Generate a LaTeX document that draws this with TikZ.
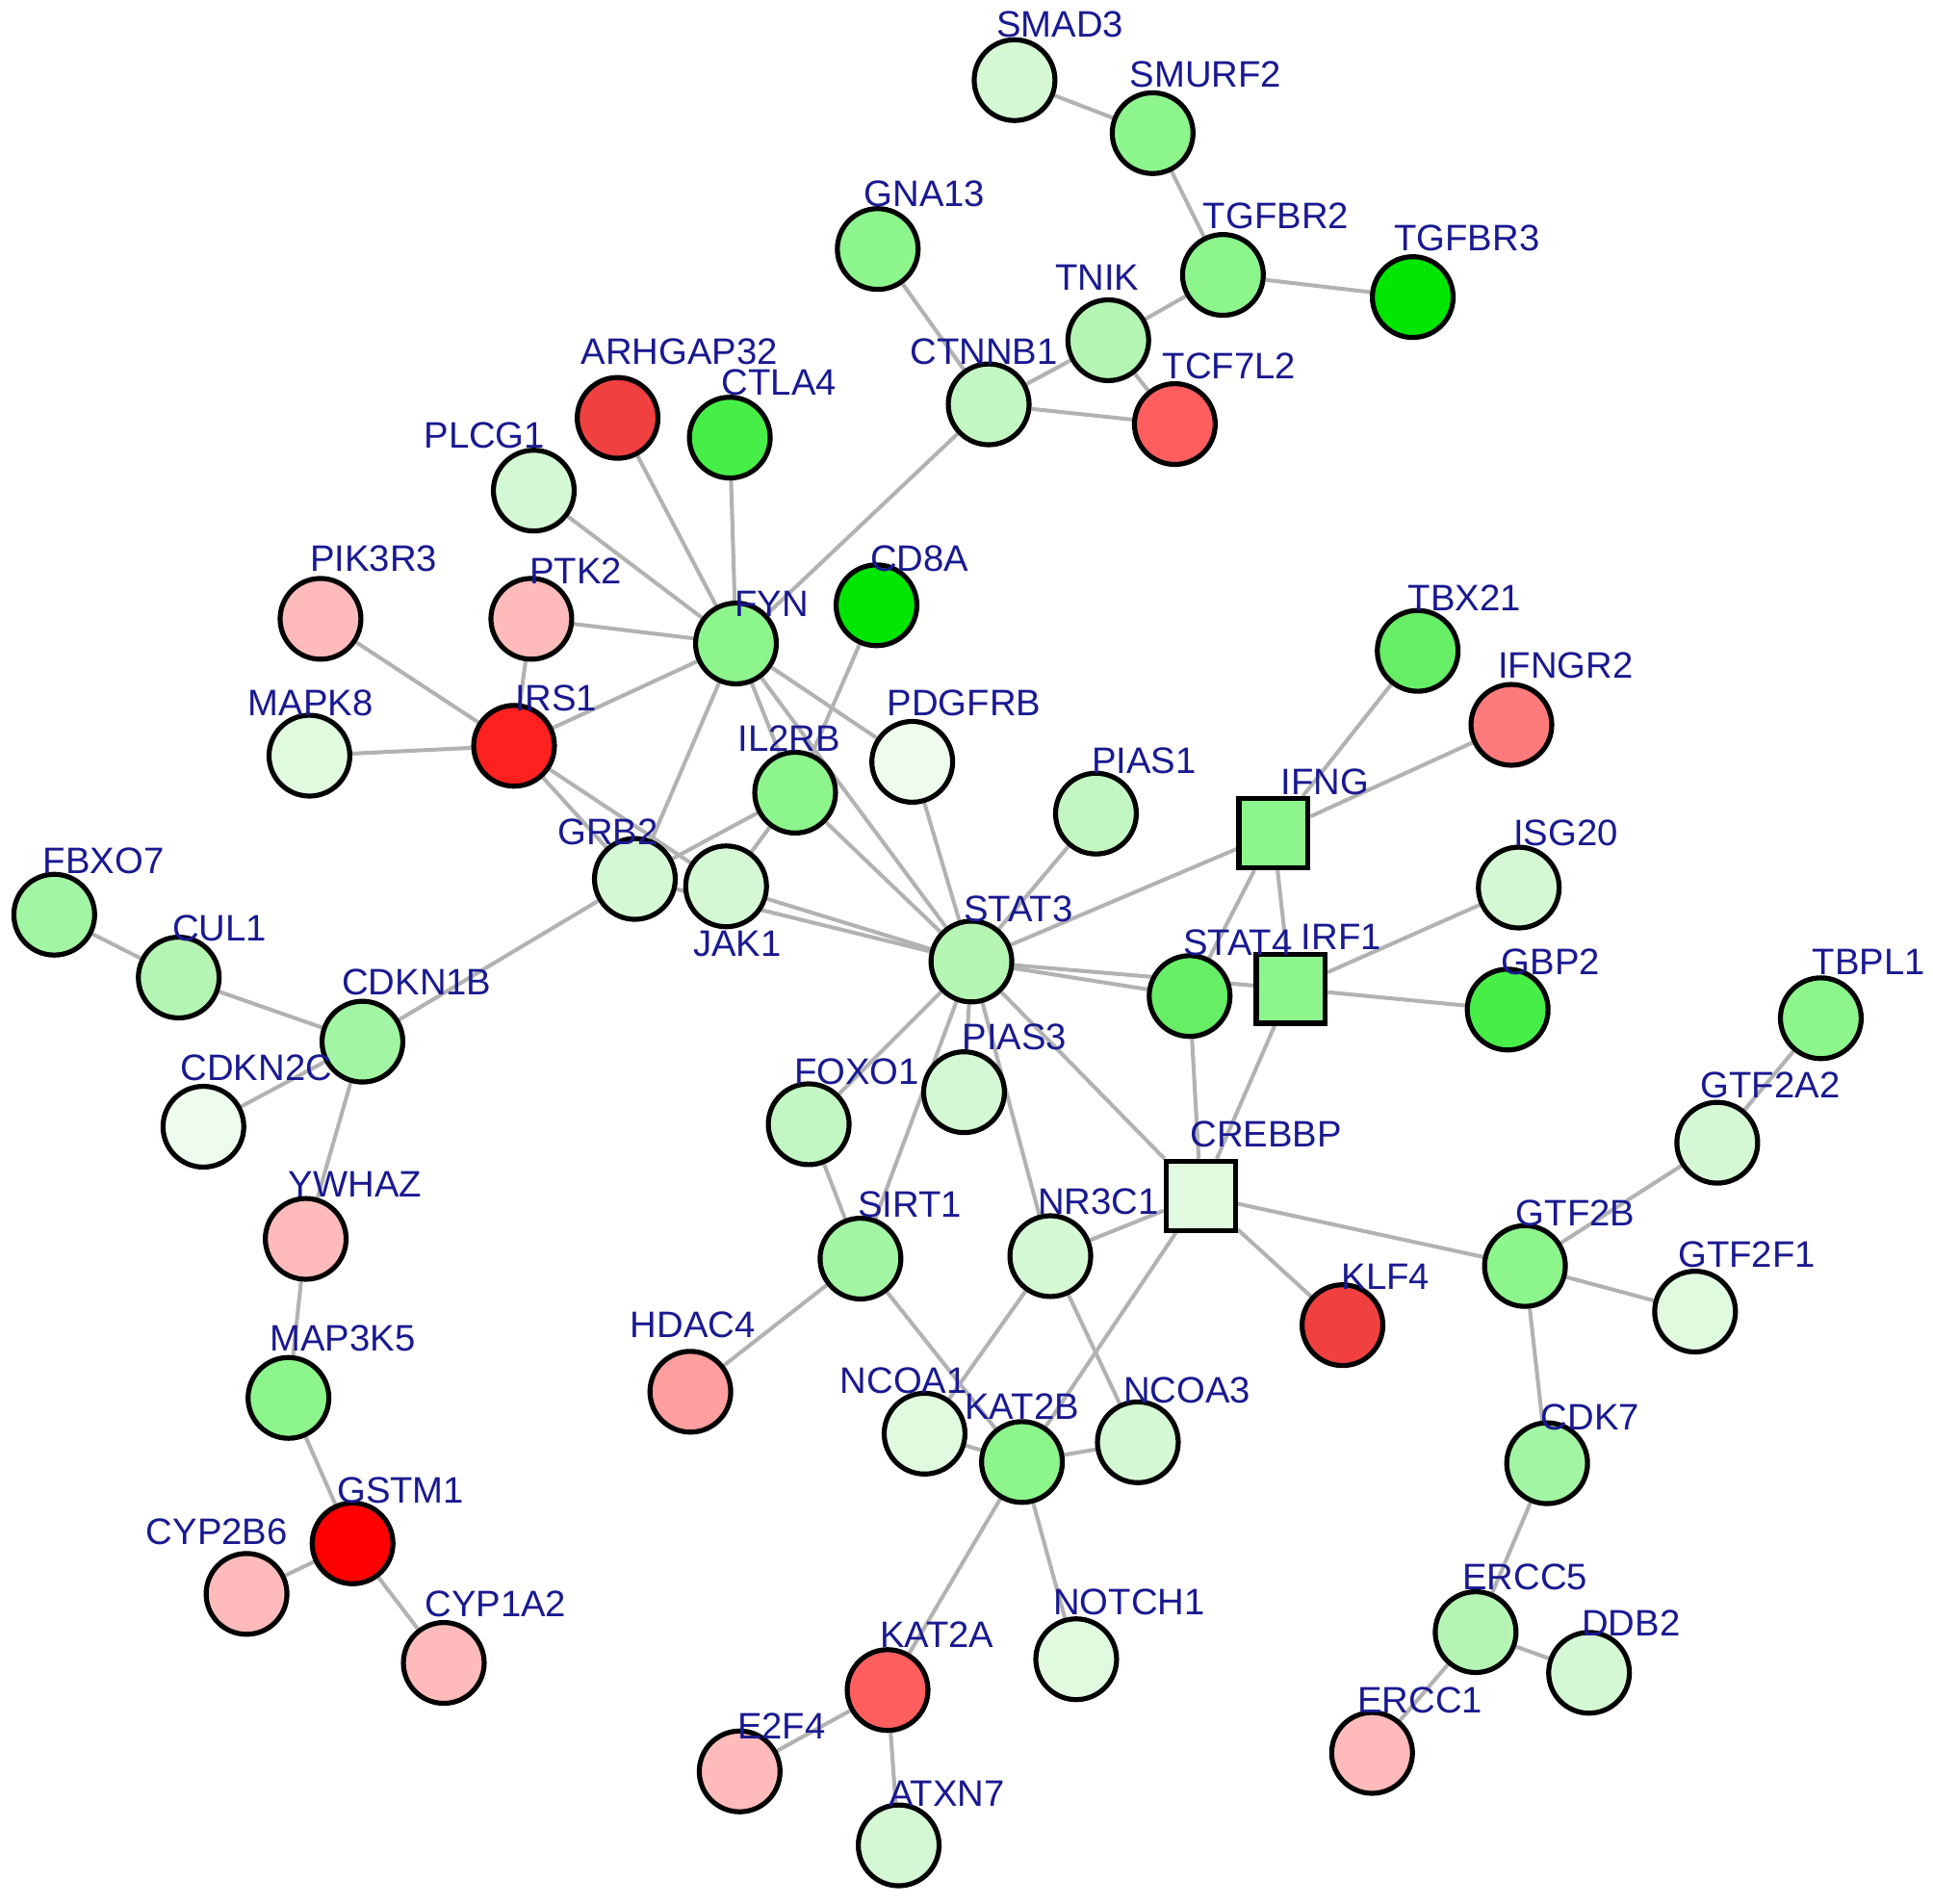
\documentclass[tikz,border=0pt]{standalone}
\usepackage{fontspec}
\setmainfont{Liberation Sans}
\usetikzlibrary{backgrounds}
\pgfdeclarelayer{fg}
\pgfsetlayers{background,main,fg}
\definecolor{lbl}{RGB}{25,25,145}
\definecolor{edgec}{RGB}{178,178,178}
\definecolor{g0}{HTML}{EEFCEE}
\definecolor{g1}{HTML}{E0FAE0}
\definecolor{g2}{HTML}{D4F8D4}
\definecolor{g3}{HTML}{C2F6C2}
\definecolor{g4}{HTML}{B4F5B4}
\definecolor{g5}{HTML}{A2F5A2}
\definecolor{g6}{HTML}{8CF58C}
\definecolor{g7}{HTML}{66EE66}
\definecolor{g8}{HTML}{48EE48}
\definecolor{g9}{HTML}{00E600}
\definecolor{r1}{HTML}{FFBBBB}
\definecolor{r2}{HTML}{FF9E9E}
\definecolor{r3}{HTML}{FF7B7B}
\definecolor{r4}{HTML}{FF5E5E}
\definecolor{r5}{HTML}{F04040}
\definecolor{r6}{HTML}{FF2020}
\definecolor{r7}{HTML}{FF0000}
\newcommand\gn[6]{%
  \node[gene,fill=#4] (#1) at (#2,#3) {};
  \begin{pgfonlayer}{fg}\node[lab] (#1-l) at (#5,#6) {#1};\end{pgfonlayer}}
\newcommand\gsq[6]{%
  \node[genesq,fill=#4] (#1) at (#2,#3) {};
  \begin{pgfonlayer}{fg}\node[lab] (#1-l) at (#5,#6) {#1};\end{pgfonlayer}}
\begin{document}
\begin{tikzpicture}[x=0.01cm,y=-0.01cm,
  gene/.style={circle,draw=black,line width=1.15pt,minimum size=0.655cm,inner sep=0pt},
  genesq/.style={rectangle,draw=black,line width=1.15pt,minimum size=0.56cm,inner sep=0pt},
  lab/.style={text=lbl,font=\fontsize{8.5}{10}\selectfont,inner sep=0pt},
  link/.style={draw=edgec,line width=0.9pt}]
\useasboundingbox (0,0) rectangle (1568,1544);
\gn{SMAD3}{823}{65}{g2}{860}{20}
\gn{SMURF2}{935}{108}{g6}{978}{60}
\gn{GNA13}{712}{202}{g6}{750}{157}
\gn{TGFBR2}{992}{223}{g6}{1035}{175}
\gn{TGFBR3}{1146}{241}{g9}{1190}{193}
\gn{TNIK}{899}{276}{g4}{890}{225}
\gn{CTNNB1}{802}{328}{g3}{798}{285}
\gn{TCF7L2}{953}{344}{r4}{997}{297}
\gn{ARHGAP32}{501}{339}{r5}{551}{285}
\gn{CTLA4}{592}{355}{g8}{632}{310}
\gn{PLCG1}{433}{398}{g2}{393}{353}
\gn{PIK3R3}{260}{502}{r1}{303}{453}
\gn{PTK2}{431}{502}{r1}{467}{463}
\gn{CD8A}{711}{491}{g9}{746}{453}
\gn{FYN}{597}{522}{g6}{626}{490}
\gn{TBX21}{1150}{528}{g7}{1188}{485}
\gn{IFNGR2}{1226}{588}{r3}{1270}{540}
\gn{MAPK8}{251}{613}{g1}{252}{570}
\gn{IRS1}{417}{605}{r6}{451}{566}
\gn{PDGFRB}{740}{618}{g0}{782}{570}
\gn{IL2RB}{645}{643}{g6}{640}{599}
\gn{PIAS1}{889}{660}{g3}{928}{617}
\gsq{IFNG}{1033}{676}{g6}{1075}{634}
\gn{ISG20}{1232}{720}{g2}{1270}{676}
\gn{GRB2}{515}{713}{g2}{493}{675}
\gn{JAK1}{589}{719}{g2}{598}{766}
\gn{FBXO7}{44}{742}{g5}{84}{698}
\gn{STAT3}{788}{780}{g4}{826}{737}
\gn{CUL1}{145}{793}{g4}{178}{753}
\gn{STAT4}{965}{808}{g7}{1004}{765}
\gsq{IRF1}{1047}{802}{g6}{1088}{760}
\gn{GBP2}{1223}{819}{g8}{1258}{780}
\gn{TBPL1}{1477}{826}{g6}{1516}{780}
\gn{CDKN1B}{294}{845}{g5}{338}{797}
\gn{PIAS3}{782}{886}{g2}{823}{841}
\gn{FOXO1}{656}{912}{g3}{695}{869}
\gn{CDKN2C}{165}{914}{g0}{208}{866}
\gn{GTF2A2}{1393}{927}{g2}{1436}{880}
\gsq{CREBBP}{974}{970}{g1}{1027}{920}
\gn{YWHAZ}{248}{1005}{r1}{288}{961}
\gn{SIRT1}{698}{1021}{g5}{738}{977}
\gn{NR3C1}{852}{1019}{g2}{891}{975}
\gn{GTF2B}{1237}{1027}{g6}{1278}{984}
\gn{GTF2F1}{1375}{1064}{g1}{1417}{1018}
\gn{KLF4}{1089}{1075}{r5}{1124}{1036}
\gn{HDAC4}{560}{1129}{r2}{562}{1075}
\gn{MAP3K5}{234}{1134}{g6}{278}{1086}
\gn{NCOA1}{750}{1163}{g1}{733}{1120}
\gn{KAT2B}{829}{1186}{g6}{829}{1141}
\gn{NCOA3}{923}{1170}{g2}{963}{1128}
\gn{CDK7}{1255}{1187}{g5}{1290}{1150}
\gn{GSTM1}{286}{1252}{r7}{325}{1209}
\gn{CYP2B6}{200}{1293}{r1}{176}{1243}
\gn{CYP1A2}{360}{1349}{r1}{402}{1301}
\gn{NOTCH1}{873}{1346}{g1}{916}{1300}
\gn{ERCC5}{1197}{1324}{g4}{1237}{1279}
\gn{DDB2}{1289}{1357}{g2}{1323}{1317}
\gn{KAT2A}{720}{1371}{r4}{760}{1326}
\gn{ERCC1}{1113}{1422}{r1}{1152}{1379}
\gn{E2F4}{600}{1437}{r1}{634}{1400}
\gn{ATXN7}{729}{1497}{g2}{768}{1455}
\begin{pgfonlayer}{background}
\foreach \a/\b in {SMAD3/SMURF2,SMURF2/TGFBR2,TGFBR2/TGFBR3,TGFBR2/TNIK,TNIK/CTNNB1,
  TNIK/TCF7L2,CTNNB1/TCF7L2,GNA13/CTNNB1,CTNNB1/FYN,ARHGAP32/FYN,CTLA4/FYN,PLCG1/FYN,
  PTK2/FYN,PTK2/IRS1,PIK3R3/IRS1,MAPK8/IRS1,IRS1/FYN,IRS1/GRB2,IRS1/JAK1,FYN/GRB2,
  FYN/IL2RB,FYN/STAT3,FYN/PDGFRB,CD8A/IL2RB,PDGFRB/STAT3,IL2RB/STAT3,IL2RB/GRB2,
  IL2RB/JAK1,GRB2/STAT3,JAK1/STAT3,GRB2/CDKN1B,FBXO7/CUL1,CUL1/CDKN1B,CDKN2C/CDKN1B,
  CDKN1B/YWHAZ,YWHAZ/MAP3K5,MAP3K5/GSTM1,GSTM1/CYP2B6,GSTM1/CYP1A2,PIAS1/STAT3,
  STAT3/IFNG,IFNG/TBX21,IFNG/IFNGR2,IFNG/IRF1,IFNG/STAT4,IRF1/ISG20,IRF1/GBP2,
  IRF1/CREBBP,STAT3/STAT4,STAT3/IRF1,STAT4/CREBBP,STAT3/CREBBP,STAT3/PIAS3,
  STAT3/NR3C1,STAT3/FOXO1,STAT3/SIRT1,FOXO1/SIRT1,SIRT1/HDAC4,SIRT1/KAT2B,
  NR3C1/NCOA1,NR3C1/NCOA3,NR3C1/CREBBP,CREBBP/KAT2B,CREBBP/KLF4,CREBBP/GTF2B,
  GTF2B/GTF2A2,GTF2A2/TBPL1,GTF2B/GTF2F1,GTF2B/CDK7,CDK7/ERCC5,ERCC5/DDB2,
  ERCC5/ERCC1,KAT2B/NCOA1,KAT2B/NCOA3,KAT2B/NOTCH1,KAT2B/KAT2A,KAT2A/E2F4,KAT2A/ATXN7}
  \draw[link] (\a) -- (\b);
\end{pgfonlayer}
\end{tikzpicture}
\end{document}
